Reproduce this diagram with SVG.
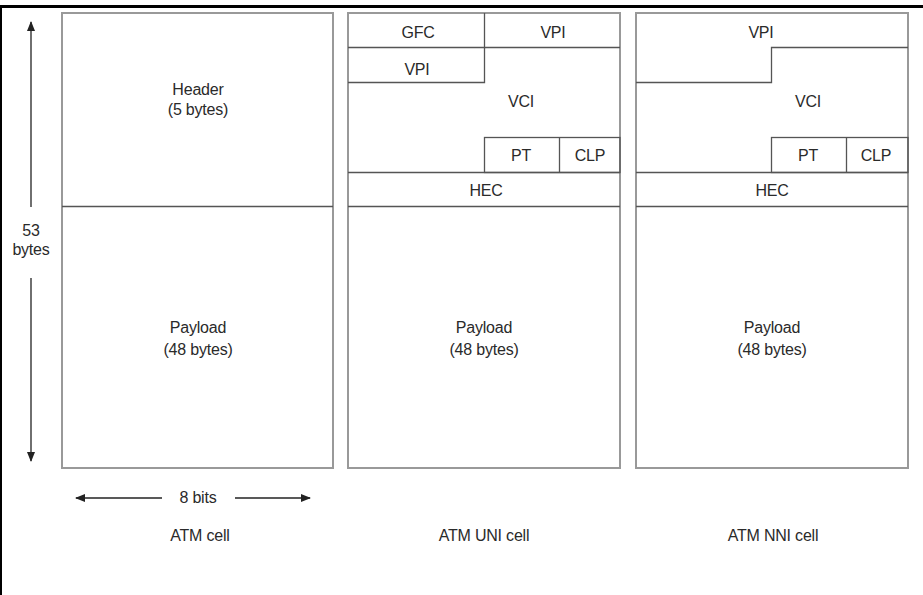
<svg xmlns="http://www.w3.org/2000/svg" width="923" height="595" viewBox="0 0 923 595">
<defs>
<style>
.cell{fill:#fff;stroke:#999;stroke-width:2}
.ln{fill:none;stroke:#555;stroke-width:1.3}
.t{font-family:"Liberation Sans",Arial,sans-serif;font-size:16px;fill:#2a2a2a;text-anchor:middle;letter-spacing:-0.2px}
.arr{stroke:#222;stroke-width:1.3;fill:none}
</style>
<marker id="ah" markerWidth="10" markerHeight="8" refX="9" refY="4" orient="auto" markerUnits="userSpaceOnUse">
<path d="M0,0 L10,4 L0,8 z" fill="#222"/>
</marker>
</defs>
<rect width="923" height="595" fill="#fff"/>
<line x1="0" y1="6.5" x2="923" y2="6.5" stroke="#000" stroke-width="3"/>
<line x1="1" y1="5" x2="1" y2="595" stroke="#000" stroke-width="2"/>

<g id="atm-cell">
<rect class="cell" x="62" y="13" width="271" height="455"/>
<line class="ln" x1="62" y1="206.5" x2="333" y2="206.5"/>
<text class="t" x="198" y="95">Header</text>
<text class="t" x="198" y="115">(5 bytes)</text>
<text class="t" x="198" y="333">Payload</text>
<text class="t" x="198" y="355">(48 bytes)</text>
<text class="t" x="200" y="541">ATM cell</text>
</g>

<g id="uni-cell">
<rect class="cell" x="348" y="13" width="272" height="455"/>
<polyline class="ln" points="348,47.5 484.5,47.5 484.5,13"/>
<line class="ln" x1="484.5" y1="47.5" x2="620" y2="47.5"/>
<polyline class="ln" points="348,82.5 484.5,82.5 484.5,47.5"/>
<rect class="ln" x="484.5" y="137.5" width="135.5" height="35"/>
<line class="ln" x1="559.5" y1="137.5" x2="559.5" y2="172.5"/>
<line class="ln" x1="348" y1="172.5" x2="620" y2="172.5"/>
<line class="ln" x1="348" y1="206.5" x2="620" y2="206.5"/>
<text class="t" x="418" y="38">GFC</text>
<text class="t" x="553" y="38">VPI</text>
<text class="t" x="417" y="75">VPI</text>
<text class="t" x="521" y="107">VCI</text>
<text class="t" x="521" y="161">PT</text>
<text class="t" x="590" y="161">CLP</text>
<text class="t" x="486" y="196">HEC</text>
<text class="t" x="484" y="333">Payload</text>
<text class="t" x="484" y="355">(48 bytes)</text>
<text class="t" x="484" y="541">ATM UNI cell</text>
</g>

<g id="nni-cell">
<rect class="cell" x="636" y="13" width="272" height="455"/>
<polyline class="ln" points="636,82.5 771.5,82.5 771.5,47.5 908,47.5"/>
<rect class="ln" x="771.5" y="137.5" width="136.5" height="35"/>
<line class="ln" x1="846.5" y1="137.5" x2="846.5" y2="172.5"/>
<line class="ln" x1="636" y1="172.5" x2="908" y2="172.5"/>
<line class="ln" x1="636" y1="206.5" x2="908" y2="206.5"/>
<text class="t" x="761" y="38">VPI</text>
<text class="t" x="808" y="107">VCI</text>
<text class="t" x="808" y="161">PT</text>
<text class="t" x="876" y="161">CLP</text>
<text class="t" x="772" y="196">HEC</text>
<text class="t" x="772" y="333">Payload</text>
<text class="t" x="772" y="355">(48 bytes)</text>
<text class="t" x="773" y="541">ATM NNI cell</text>
</g>

<g id="connectors">
<line class="arr" x1="31" y1="207" x2="31" y2="22" marker-end="url(#ah)"/>
<line class="arr" x1="31" y1="278" x2="31" y2="461" marker-end="url(#ah)"/>
<line class="arr" x1="162" y1="498" x2="76" y2="498" marker-end="url(#ah)"/>
<line class="arr" x1="235" y1="498" x2="310" y2="498" marker-end="url(#ah)"/>
</g>
<g id="dim-labels">
<text class="t" x="31" y="236">53</text>
<text class="t" x="31" y="255">bytes</text>
<text class="t" x="198" y="503">8 bits</text>
</g>
</svg>
